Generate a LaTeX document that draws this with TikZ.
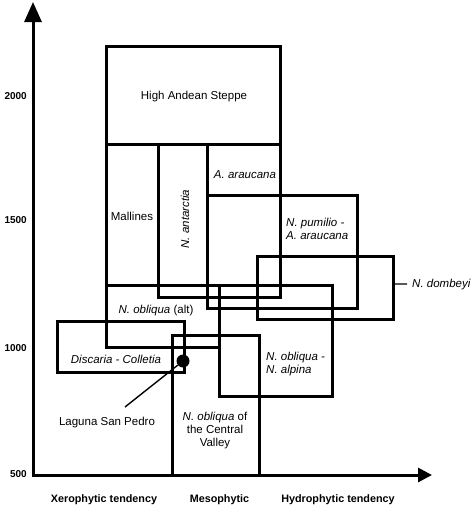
\documentclass[tikz,border=0pt]{standalone}
\usepackage{fontspec}
\setmainfont{Liberation Sans}
\usetikzlibrary{arrows.meta}
\begin{document}
\begin{tikzpicture}[x=1pt,y=-1pt,
  zone/.style={line width=3pt},
  axisline/.style={line width=3pt},
  lbl/.style={inner sep=0pt, font=\fontsize{11.5}{13}\selectfont},
  lbli/.style={inner sep=0pt, font=\fontsize{11.5}{13}\selectfont\itshape},
  axlbl/.style={inner sep=0pt, anchor=base, font=\fontsize{10.8}{13}\selectfont\bfseries},
  num/.style={inner sep=0pt, anchor=base east, font=\fontsize{10}{12}\selectfont\bfseries},
  leader/.style={line width=1.4pt},
  site/.style={circle, fill=black, minimum size=13pt, inner sep=0pt}]
\useasboundingbox (0,0) rectangle (474,528);
% axes
\coordinate (O) at (33,475);
\coordinate (ytop) at (33,2);
\coordinate (xend) at (432,475);
\draw[axisline, {Triangle[length=20pt,width=17pt]}-{Triangle[length=14pt,width=14pt]}] (ytop) -- (O) -- (xend);
% zones
\draw[zone] (106,46) rectangle (280,144);   % High Andean Steppe
\draw[zone] (106,144) rectangle (158,285);  % Mallines
\draw[zone] (158,144) rectangle (280,297);  % N. antarctia
\draw[zone] (207,144) rectangle (280,195);  % A. araucana
\draw[zone] (207,195) rectangle (357,308);  % N. pumilio - A. araucana
\draw[zone] (257,256) rectangle (393,319);  % N. dombeyi
\draw[zone] (106,285) rectangle (219,347);  % N. obliqua (alt)
\draw[zone] (219,285) rectangle (332,396);  % N. obliqua - N. alpina
\draw[zone] (57,321) rectangle (184,372);   % Discaria - Colletia
\draw[zone] (172,335) rectangle (259,475);  % N. obliqua Central Valley
% labels
\node[lbl, anchor=base] (steppe) at (194,99) {High Andean Steppe};
\node[lbl, anchor=base] (mallines) at (132,220) {Mallines};
\node[lbli, rotate=90, anchor=center] (antarctia) at (185,219) {N. antarctia};
\node[lbli, anchor=base] (araucana) at (245,178) {A. araucana};
\node[lbli, anchor=north west, align=left] (pumilio) at (286,217.5) {N. pumilio -\\A. araucana};
\node[lbli, anchor=base west] (dombeyi) at (412,287) {N. dombeyi};
\coordinate (dedge) at (393,284);
\draw[leader] (dedge) -- ([xshift=-5pt]dombeyi.west);
\node[lbl, anchor=base] (oblalt) at (156,313) {\textit{N. obliqua} (alt)};
\node[lbli, anchor=base] (discaria) at (116,363) {Discaria - Colletia};
\node[lbli, anchor=north west, align=left] (alpina) at (266,351.6) {N. obliqua -\\N. alpina};
\node[lbl, anchor=north, align=center] (central) at (215,411.6) {\textit{N. obliqua} of\\the Central\\Valley};
\node[site] (lsp) at (183,361) {};
\node[lbl, anchor=base] (lsplabel) at (107,425) {Laguna San Pedro};
\coordinate (lspend) at (125,407);
\draw[leader] (lsp) -- (lspend);
% axis labels
\node[num] (n2000) at (27,99) {2000};
\node[num] (n1500) at (27,223) {1500};
\node[num] (n1000) at (27,351) {1000};
\node[num] (n500) at (27,477) {500};
\node[axlbl] (xero) at (104,502) {Xerophytic tendency};
\node[axlbl] (meso) at (219.5,502) {Mesophytic};
\node[axlbl] (hydro) at (338,502) {Hydrophytic tendency};
\end{tikzpicture}
\end{document}
